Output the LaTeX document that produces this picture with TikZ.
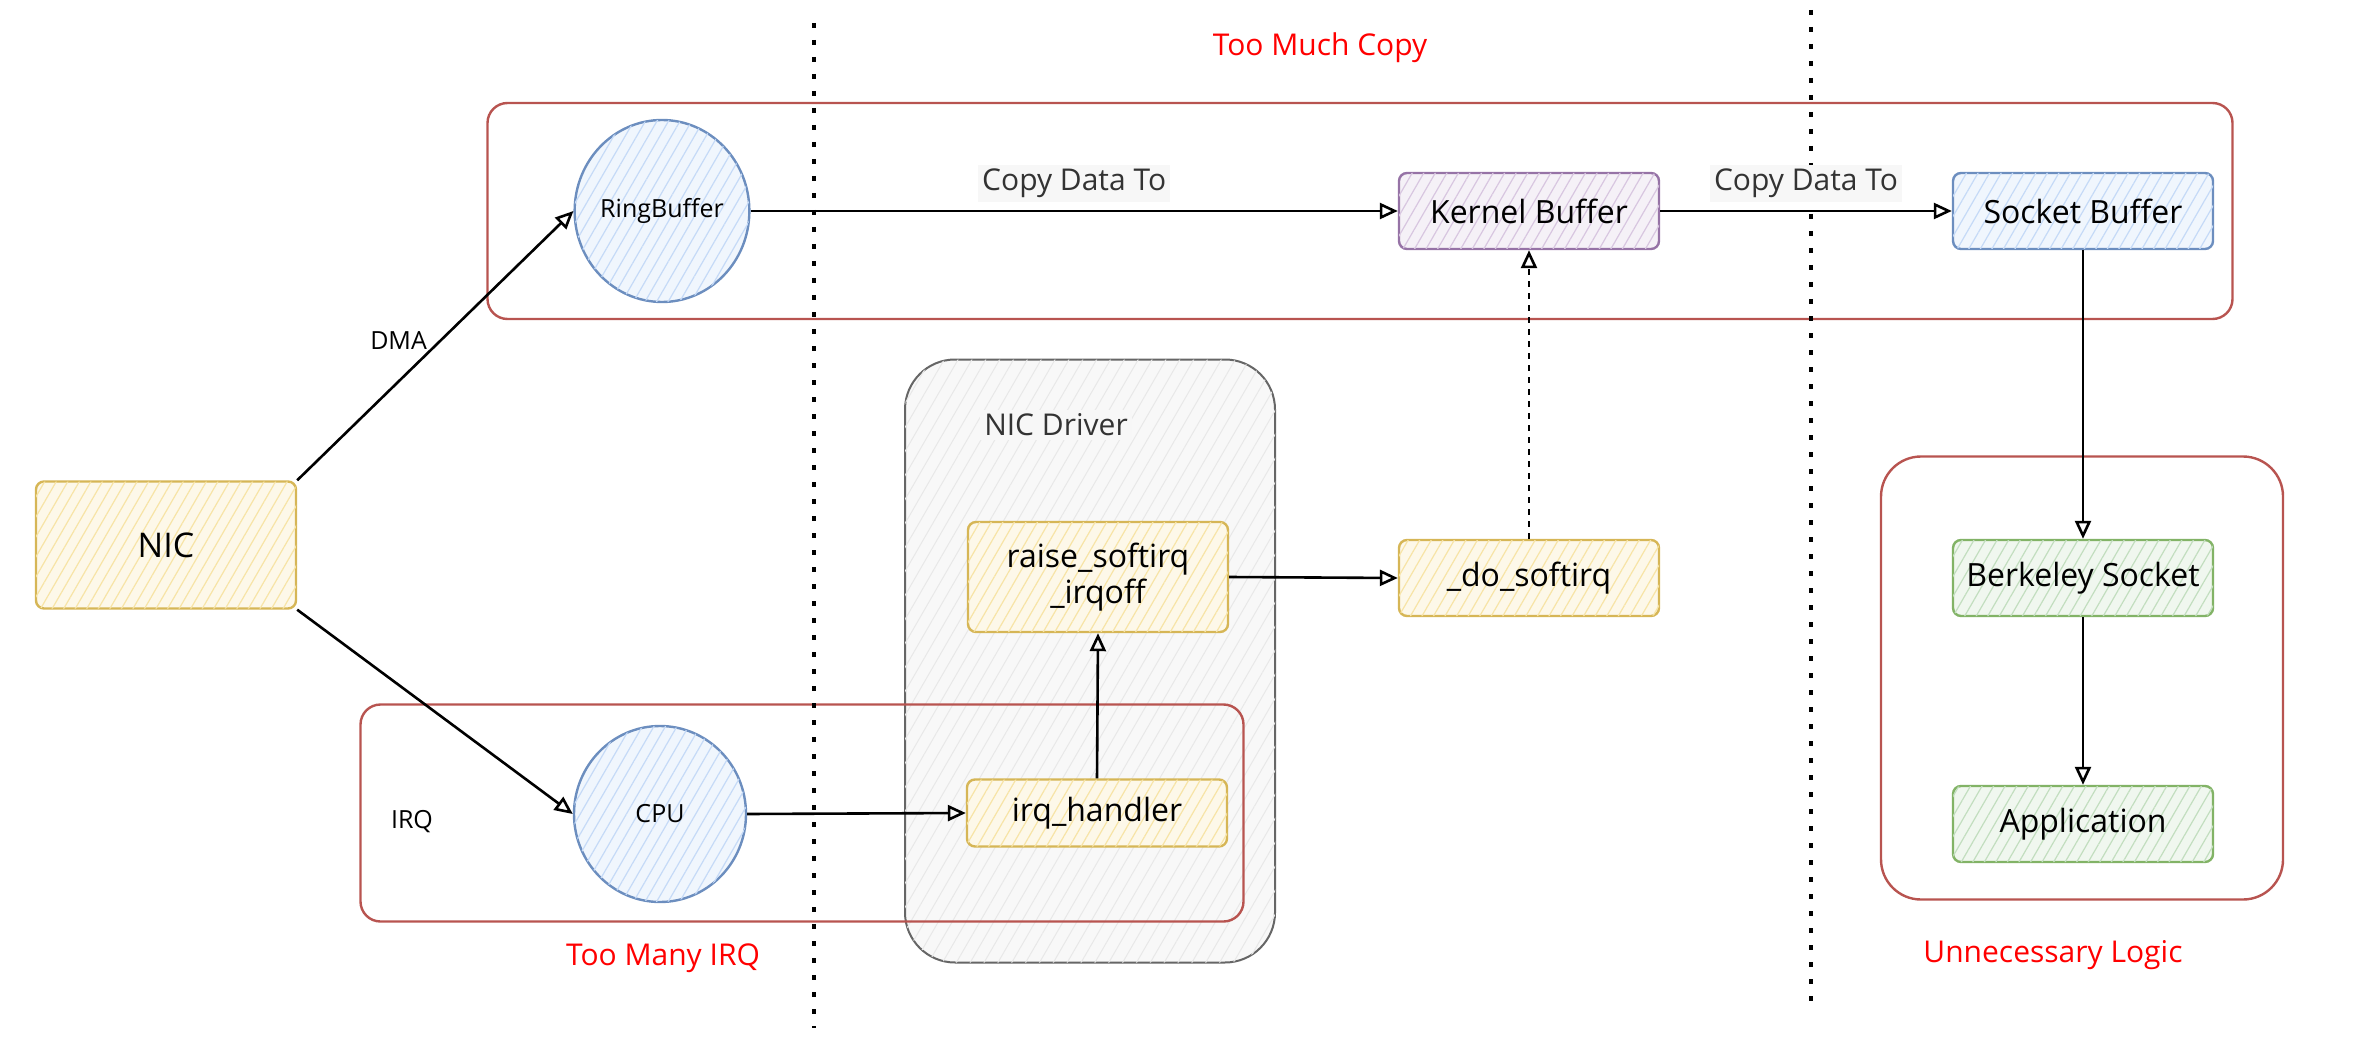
\documentclass[tikz,border=0pt]{standalone}
\usepackage{fontspec}
\setmainfont{Open Sans}
\usetikzlibrary{positioning,arrows.meta,patterns.meta,shapes.geometric}

\definecolor{ydraw}{HTML}{D6B656}
\definecolor{yhatch}{HTML}{F7E4A6}
\definecolor{bdraw}{HTML}{6C8EBF}
\definecolor{bhatch}{HTML}{C5DAF7}
\definecolor{pdraw}{HTML}{9673A6}
\definecolor{phatch}{HTML}{D8C6E0}
\definecolor{gdraw}{HTML}{82B366}
\definecolor{ghatch}{HTML}{C2DEBF}
\definecolor{rdraw}{HTML}{B85450}
\definecolor{kdraw}{HTML}{666666}
\definecolor{khatch}{HTML}{E8E8E8}
\definecolor{labelbg}{HTML}{F7F7F7}

\begin{document}
\begin{tikzpicture}[x=0.5pt,y=-0.5pt]
% Define styles for nodes and edges
\tikzstyle{box} = [rectangle, rounded corners=4pt, line width=1.2pt, minimum width=130pt, minimum height=38pt, align=center, font=\fontsize{16}{18}\selectfont]
\tikzstyle{handler} = [box, draw=ydraw, fill=yhatch!25, postaction={pattern={Lines[angle=60,distance=5pt,line width=0.6pt]}, pattern color=yhatch}]
\tikzstyle{kernel} = [box, draw=pdraw, fill=phatch!25, postaction={pattern={Lines[angle=60,distance=5pt,line width=0.6pt]}, pattern color=phatch}]
\tikzstyle{sockbox} = [box, draw=bdraw, fill=bhatch!25, postaction={pattern={Lines[angle=60,distance=5pt,line width=0.6pt]}, pattern color=bhatch}]
\tikzstyle{user} = [box, draw=gdraw, fill=ghatch!25, postaction={pattern={Lines[angle=60,distance=5pt,line width=0.6pt]}, pattern color=ghatch}]
\tikzstyle{ring} = [ellipse, line width=1.2pt, draw=bdraw, fill=bhatch!25, postaction={pattern={Lines[angle=60,distance=5pt,line width=0.6pt]}, pattern color=bhatch}, inner sep=0pt, font=\fontsize{12.5}{14}\selectfont]
\tikzstyle{zone} = [rectangle, draw=rdraw, line width=1.2pt, rounded corners=10pt]
\tikzstyle{driver} = [rectangle, draw=kdraw, line width=1pt, rounded corners=25pt, fill=khatch!30, postaction={pattern={Lines[angle=60,distance=6pt,line width=0.5pt]}, pattern color=khatch}]
\tikzstyle{note} = [text=red, font=\fontsize{15}{18}\selectfont]
\tikzstyle{tag} = [font=\fontsize{12.5}{14}\selectfont]
\tikzstyle{caption} = [text=black!80, fill=labelbg, inner sep=2pt, font=\fontsize{15}{17}\selectfont]
\tikzstyle{divider} = [line width=1.6pt, dash pattern=on 2.5pt off 6pt]
\tikzstyle{arrow} = [line width=1.3pt, -{Triangle[open, length=9pt, width=8pt]}]

\useasboundingbox (0,0) rectangle (2371,1059);

% Groups
\node[driver, minimum width=185pt, minimum height=301.5pt] (drvzone) at (1090,661) {};
\node[caption] (drvlabel) at (1056,425) {NIC Driver};
\node[zone, minimum width=872.5pt, minimum height=108pt] (copyzone) at (1360,211) {};
\node[zone, minimum width=441.5pt, minimum height=108.5pt] (irqzone) at (802,813) {};
\node[zone, rounded corners=20pt, minimum width=201pt, minimum height=221.5pt] (logiczone) at (2082,678) {};

% Dividers
\draw[divider] (814,23) -- (814,1028);
\draw[divider] (1811,10) -- (1811,1012);

% Nodes
\node[handler, minimum height=63.5pt, font=\fontsize{17}{19}\selectfont] (nic) at (166,545) {NIC};
\node[ring, minimum width=85pt, minimum height=91pt] (ring) at (662,211) {RingBuffer};
\node[ring, minimum width=86pt, minimum height=88pt] (cpu) at (660,814) {CPU};
\node[handler, minimum height=55pt] (raise) at (1098,577) {raise\_softirq\\\_irqoff};
\node[handler, minimum height=33.5pt] (irq) at (1097,813) {irq\_handler};
\node[handler] (dosoft) at (1529,578) {\_do\_softirq};
\node[kernel] (kbuf) at (1529,211) {Kernel Buffer};
\node[sockbox] (sbuf) at (2083,211) {Socket Buffer};
\node[user] (berkeley) at (2083,578) {Berkeley Socket};
\node[user] (app) at (2083,824) {Application};

% Texts
\node[tag] (irqlabel) at (412,822) {IRQ};
\node[note] (copynote) at (1320,48) {Too Much Copy};
\node[note] (irqnote) at (663,958) {Too Many IRQ};
\node[note] (logicnote) at (2053,955) {Unnecessary Logic};

% Edges
\draw[arrow] (nic.north east) -- node[tag, pos=0.52, left=3pt] {DMA} (ring.west);
\draw[arrow] (nic.south east) -- (cpu.west);
\draw[arrow] (ring.east) -- node[caption, above=4pt] {Copy Data To} (kbuf.west);
\draw[arrow] (kbuf.east) -- node[caption, above=4pt] {Copy Data To} (sbuf.west);
\draw[arrow] (sbuf.south) -- (berkeley.north);
\draw[arrow] (berkeley.south) -- (app.north);
\draw[arrow] (cpu.east) -- (irq.west);
\draw[arrow] (irq.north) -- (raise.south);
\draw[arrow] (raise.east) -- (dosoft.west);
\draw[arrow, dashed] (dosoft.north) -- (kbuf.south);
\end{tikzpicture}
\end{document}
